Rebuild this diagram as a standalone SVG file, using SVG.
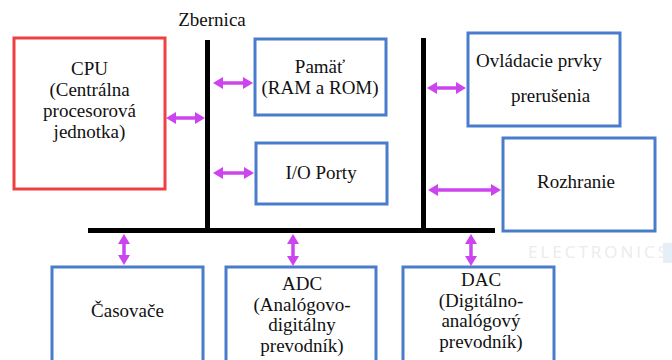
<svg xmlns="http://www.w3.org/2000/svg" width="672" height="360" viewBox="0 0 672 360">
<style>
text.t{font-family:'Liberation Serif','Times New Roman','DejaVu Serif','Noto Serif',serif;font-size:19px;fill:#111;}
text.c{text-anchor:middle;}
.box{fill:#fff;stroke:#4a7ccc;stroke-width:3;}
.red{fill:#fff;stroke:#ee4040;stroke-width:3;}
.bus{stroke:#000;stroke-width:5;fill:none;}
.arr{stroke:#cc44ee;stroke-width:3.5;fill:none;marker-start:url(#ah);marker-end:url(#ah);}
</style>
<defs>
<marker id="ah" markerUnits="userSpaceOnUse" markerWidth="10" markerHeight="12" refX="4" refY="6" orient="auto-start-reverse" viewBox="0 0 10 12">
<path d="M0,0 L10,6 L0,12 z" fill="#cc44ee"/>
</marker>
</defs>
<rect width="672" height="360" fill="#fff"/>
<g id="watermark">
<text x="528" y="258" font-family="'Open Sans','DejaVu Sans',sans-serif" font-size="17" letter-spacing="3" fill="#ececec">ELECTRONICS</text>
<rect x="663" y="243" width="12" height="20" fill="#e6eef8"/>
</g>
<g font-family="'Liberation Serif','DejaVu Serif',serif">
<g id="bus">
<text class="t" x="212" y="26" text-anchor="middle">Zbernica</text>
<line class="bus" x1="207.5" y1="40" x2="207.5" y2="231"/>
<line class="bus" x1="423.5" y1="38" x2="423.5" y2="231"/>
<line class="bus" x1="88" y1="230.5" x2="495" y2="230.5"/>
</g>
<g id="cpu">
<rect class="red" x="14" y="38" width="151" height="151"/>
<text class="t c" x="89.5" y="75">CPU</text>
<text class="t c" x="89.5" y="96">(Centrálna</text>
<text class="t c" x="89.5" y="117">procesorová</text>
<text class="t c" x="89.5" y="138">jednotka)</text>
</g>
<g id="memory">
<rect class="box" x="255" y="39" width="131" height="76"/>
<text class="t c" x="320" y="73">Pamäť</text>
<text class="t c" x="320" y="94">(RAM a ROM)</text>
</g>
<g id="io">
<rect class="box" x="256" y="143" width="131" height="61"/>
<text class="t c" x="321" y="179">I/O Porty</text>
</g>
<g id="interrupt">
<rect class="box" x="468" y="33" width="152" height="93"/>
<text class="t" x="476" y="67">Ovládacie prvky</text>
<text class="t" x="511" y="102">prerušenia</text>
</g>
<g id="interface">
<rect class="box" x="503" y="138" width="152" height="93"/>
<text class="t c" x="576" y="188">Rozhranie</text>
</g>
<g id="timers">
<rect class="box" x="52" y="267" width="151" height="110"/>
<text class="t c" x="127.5" y="317">Časovače</text>
</g>
<g id="adc">
<rect class="box" x="226" y="267" width="150" height="110"/>
<text class="t c" x="302" y="290">ADC</text>
<text class="t c" x="302" y="311">(Analógovo-</text>
<text class="t c" x="302" y="331">digitálny</text>
<text class="t c" x="302" y="352">prevodník)</text>
</g>
<g id="dac">
<rect class="box" x="403" y="267" width="151" height="110"/>
<text class="t c" x="481" y="286">DAC</text>
<text class="t c" x="481" y="307">(Digitálno-</text>
<text class="t c" x="481" y="327">analógový</text>
<text class="t c" x="481" y="348">prevodník)</text>
</g>
</g>
<g id="connectors">
<line class="arr" x1="172" y1="118" x2="199" y2="118"/>
<line class="arr" x1="219" y1="83" x2="247" y2="83"/>
<line class="arr" x1="219" y1="173" x2="248" y2="173"/>
<line class="arr" x1="433" y1="88" x2="460" y2="88"/>
<line class="arr" x1="434" y1="190" x2="495" y2="190"/>
<line class="arr" x1="124" y1="240" x2="124" y2="259"/>
<line class="arr" x1="293" y1="240" x2="293" y2="260"/>
<line class="arr" x1="471" y1="240" x2="471" y2="260"/>
</g>
</svg>
